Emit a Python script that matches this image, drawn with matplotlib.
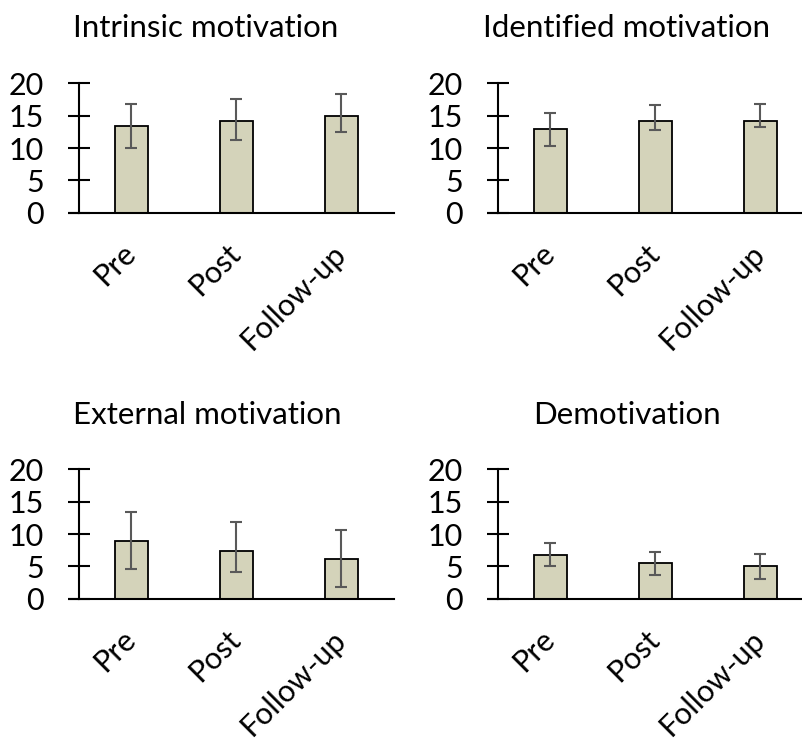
import matplotlib.pyplot as plt

plt.rcParams['font.family'] = ['Lato', 'DejaVu Sans']

phases = ["Pre", "Post", "Follow-up"]
titles = ["Intrinsic motivation", "Identified motivation",
          "External motivation", "Demotivation"]

# means and lower / upper error bar ends for each scale
intrinsic = [13.4, 14.2, 15.0]
intrinsic_lo = [10.05, 11.3, 12.5]
intrinsic_hi = [16.75, 17.5, 18.35]

identified = [12.9, 14.1, 14.2]
identified_lo = [10.35, 12.8, 13.3]
identified_hi = [15.45, 16.65, 16.8]

external = [8.9, 7.4, 6.1]
external_lo = [4.6, 4.2, 1.8]
external_hi = [13.35, 11.8, 10.55]

demotivation = [6.8, 5.5, 5.05]
demotivation_lo = [5.0, 3.65, 3.0]
demotivation_hi = [8.6, 7.25, 6.9]

W, H = 803, 738
fig = plt.figure(figsize=(W / 100, H / 100), dpi=100)

# left edge and y=0 line of each panel, in pixels from top-left
panels = [
    (78.7, 212.7, intrinsic, intrinsic_lo, intrinsic_hi),
    (497.7, 212.7, identified, identified_lo, identified_hi),
    (78.7, 598.7, external, external_lo, external_hi),
    (497.7, 598.7, demotivation, demotivation_lo, demotivation_hi),
]
title_pos = [(206, 28), (627, 28), (207, 415), (627, 415)]

for (x0, y0, vals, lo, hi), title, (tx, ty) in zip(panels, titles, title_pos):
    ax = fig.add_axes([x0 / W, (H - y0) / H, 315 / W, 129.4 / H])
    xs = range(len(phases))
    yerr = [[v - l for v, l in zip(vals, lo)], [h - v for v, h in zip(vals, hi)]]
    ax.bar(xs, vals, width=0.317, color='#d4d3ba', edgecolor='black', linewidth=1.3, zorder=2)
    ax.errorbar(xs, vals, yerr=yerr, fmt='none', ecolor='#595959', elinewidth=1.5,
                capsize=4, capthick=1.5, zorder=3)
    ax.set_xlim(-0.5, 2.5)
    ax.set_ylim(0, 20)
    ax.set_yticks([0, 5, 10, 15, 20])
    for s in ['top', 'right']:
        ax.spines[s].set_visible(False)
    ax.spines['left'].set_linewidth(1.5)
    ax.spines['bottom'].set_linewidth(1.5)
    # short stub of the baseline to the left of the y axis
    ax.plot([-0.5 - 0.035 * 3, -0.5], [0, 0], color='black', lw=1.5,
            clip_on=False, solid_capstyle='butt')
    ax.tick_params(axis='y', direction='inout', length=16, width=1.5, labelsize=22, pad=17)
    ax.tick_params(axis='x', length=0, pad=26)
    ax.set_xticks(list(xs))
    ax.set_xticklabels(phases, rotation=45, ha='right', va='center',
                       rotation_mode='anchor', fontsize=22)
    fig.text(tx / W, 1 - ty / H, title, ha='center', va='center', fontsize=22.5)

fig.savefig('out.png', dpi=100)
